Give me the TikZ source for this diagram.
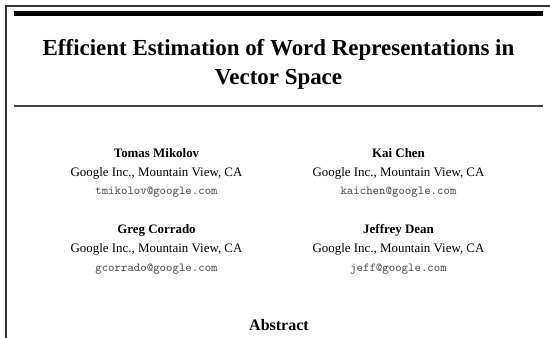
\documentclass[tikz,border=0pt]{standalone}
\usepackage{fontspec}
\setmainfont{Liberation Serif}
\begin{document}
\begin{tikzpicture}[x=0.75pt,y=-0.75pt,
  txt/.style={inner sep=0pt,anchor=base},
  titletxt/.style={txt,font=\fontsize{17.2}{20}\selectfont\bfseries},
  nametxt/.style={txt,font=\fontsize{9.7}{12}\selectfont\bfseries},
  affiltxt/.style={txt,font=\fontsize{9.7}{12}\selectfont},
  mailtxt/.style={txt,font=\fontsize{9.2}{11}\ttfamily,text=black!68},
  frameline/.style={draw=black!80,line width=1.1pt}]
\useasboundingbox (0,0) rectangle (550,338);
\fill[white] (0,0) rectangle (550,338);
% window frame (top and left edges)
\coordinate (ftl) at (6,6);
\coordinate (ftr) at (550,6);
\coordinate (fbl) at (6,338);
\draw[frameline] (ftr) -- (ftl) -- (fbl);
% heading rules
\coordinate (r1a) at (14,13.5);
\coordinate (r1b) at (543,13.5);
\draw[line width=3.4pt] (r1a) -- (r1b);
\coordinate (r2a) at (14,106);
\coordinate (r2b) at (543,106);
\draw[line width=1pt,black!75] (r2a) -- (r2b);
% title
\node[titletxt] (t1) at (278.5,56) {Efficient Estimation of Word Representations in};
\node[titletxt] (t2) at (278.5,85) {Vector Space};
% authors
\node[nametxt]  (n1) at (156.5,158) {Tomas Mikolov};
\node[affiltxt] (a1) at (156.5,177) {Google Inc., Mountain View, CA};
\node[mailtxt]  (m1) at (156.5,195) {tmikolov@google.com};
\node[nametxt]  (n2) at (398.5,158) {Kai Chen};
\node[affiltxt] (a2) at (398.5,177) {Google Inc., Mountain View, CA};
\node[mailtxt]  (m2) at (398.5,195) {kaichen@google.com};
\node[nametxt]  (n3) at (156.5,234) {Greg Corrado};
\node[affiltxt] (a3) at (156.5,253) {Google Inc., Mountain View, CA};
\node[mailtxt]  (m3) at (156.5,272) {gcorrado@google.com};
\node[nametxt]  (n4) at (398.5,234) {Jeffrey Dean};
\node[affiltxt] (a4) at (398.5,253) {Google Inc., Mountain View, CA};
\node[mailtxt]  (m4) at (398.5,272) {jeff@google.com};
% section heading
\node[txt,font=\fontsize{12}{14}\selectfont\bfseries] (abs) at (279,331) {Abstract};
\end{tikzpicture}
\end{document}
